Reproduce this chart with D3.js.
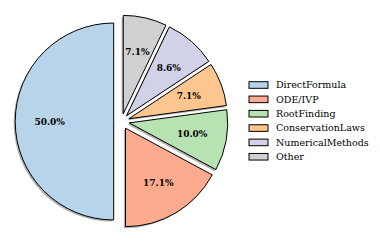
<!DOCTYPE html>
<html>
<head>
<meta charset="utf-8">
<script src="https://cdn.jsdelivr.net/npm/d3@7"></script>
<style>
  body { margin: 0; background: #fff; }
  svg { display: block; }
</style>
</head>
<body>
<div id="chart"></div>
<script>
// data
var categories = ["DirectFormula", "ODE/IVP", "RootFinding", "ConservationLaws", "NumericalMethods", "Other"];
var counts = [35, 12, 7, 5, 6, 5];
var colors = ["#b7d4ea", "#fcab8f", "#b7e2b1", "#fdc68e", "#d1d1e7", "#d0d0d0"];

var width = 380, height = 243;
var cx = 121.5, cy = 121.5, radius = 98.5;
var explode = 7.8;   // px, same for every wedge
var pctDist = 0.65;

var svg = d3.select("#chart").append("svg")
  .attr("width", width)
  .attr("height", height);

var total = d3.sum(counts);
var pie = d3.pie().sort(null).startAngle(0).endAngle(-2 * Math.PI);
var arcs = pie(counts);
var arc = d3.arc().innerRadius(0).outerRadius(radius);

function offset(d, dist) {
  var a = (d.startAngle + d.endAngle) / 2;
  return [Math.sin(a) * dist, -Math.cos(a) * dist];
}

var g = svg.append("g").attr("transform", "translate(" + cx + "," + cy + ")");

// shadows first
g.selectAll("path.shadow")
  .data(arcs)
  .enter()
  .append("path")
  .attr("class", "shadow")
  .attr("d", arc)
  .attr("transform", function (d) {
    var o = offset(d, explode);
    return "translate(" + (o[0] - 1.6) + "," + (o[1] + 1.6) + ")";
  })
  .attr("fill", "#000")
  .attr("fill-opacity", 0.3);

g.selectAll("path.wedge")
  .data(arcs)
  .enter()
  .append("path")
  .attr("class", "wedge")
  .attr("d", arc)
  .attr("transform", function (d) {
    var o = offset(d, explode);
    return "translate(" + o[0] + "," + o[1] + ")";
  })
  .attr("fill", function (d, i) { return colors[i]; })
  .attr("stroke", "#000")
  .attr("stroke-width", 1)
  .attr("stroke-linejoin", "round");

// percent labels
g.selectAll("text.pct")
  .data(arcs)
  .enter()
  .append("text")
  .attr("class", "pct")
  .attr("x", function (d) { return offset(d, explode + pctDist * radius)[0]; })
  .attr("y", function (d) { return offset(d, explode + pctDist * radius)[1]; })
  .attr("dy", "0.35em")
  .attr("text-anchor", "middle")
  .style("font-family", "'DejaVu Serif', serif")
  .style("font-weight", "bold")
  .style("font-size", "9px")
  .text(function (d) { return (d.value / total * 100).toFixed(1) + "%"; });

// legend
var legend = svg.append("g").attr("transform", "translate(249,85)");
var rowH = 14.35;

var rows = legend.selectAll("g")
  .data(categories)
  .enter()
  .append("g")
  .attr("transform", function (d, i) { return "translate(0," + (i * rowH) + ")"; });

rows.append("rect")
  .attr("x", 0)
  .attr("y", -3.3)
  .attr("width", 19)
  .attr("height", 6.6)
  .attr("fill", function (d, i) { return colors[i]; })
  .attr("stroke", "#000")
  .attr("stroke-width", 1);

rows.append("text")
  .attr("x", 27)
  .attr("y", 0)
  .attr("dy", "0.35em")
  .style("font-family", "'DejaVu Serif', serif")
  .style("font-size", "9.5px")
  .text(function (d) { return d; });
</script>
</body>
</html>
